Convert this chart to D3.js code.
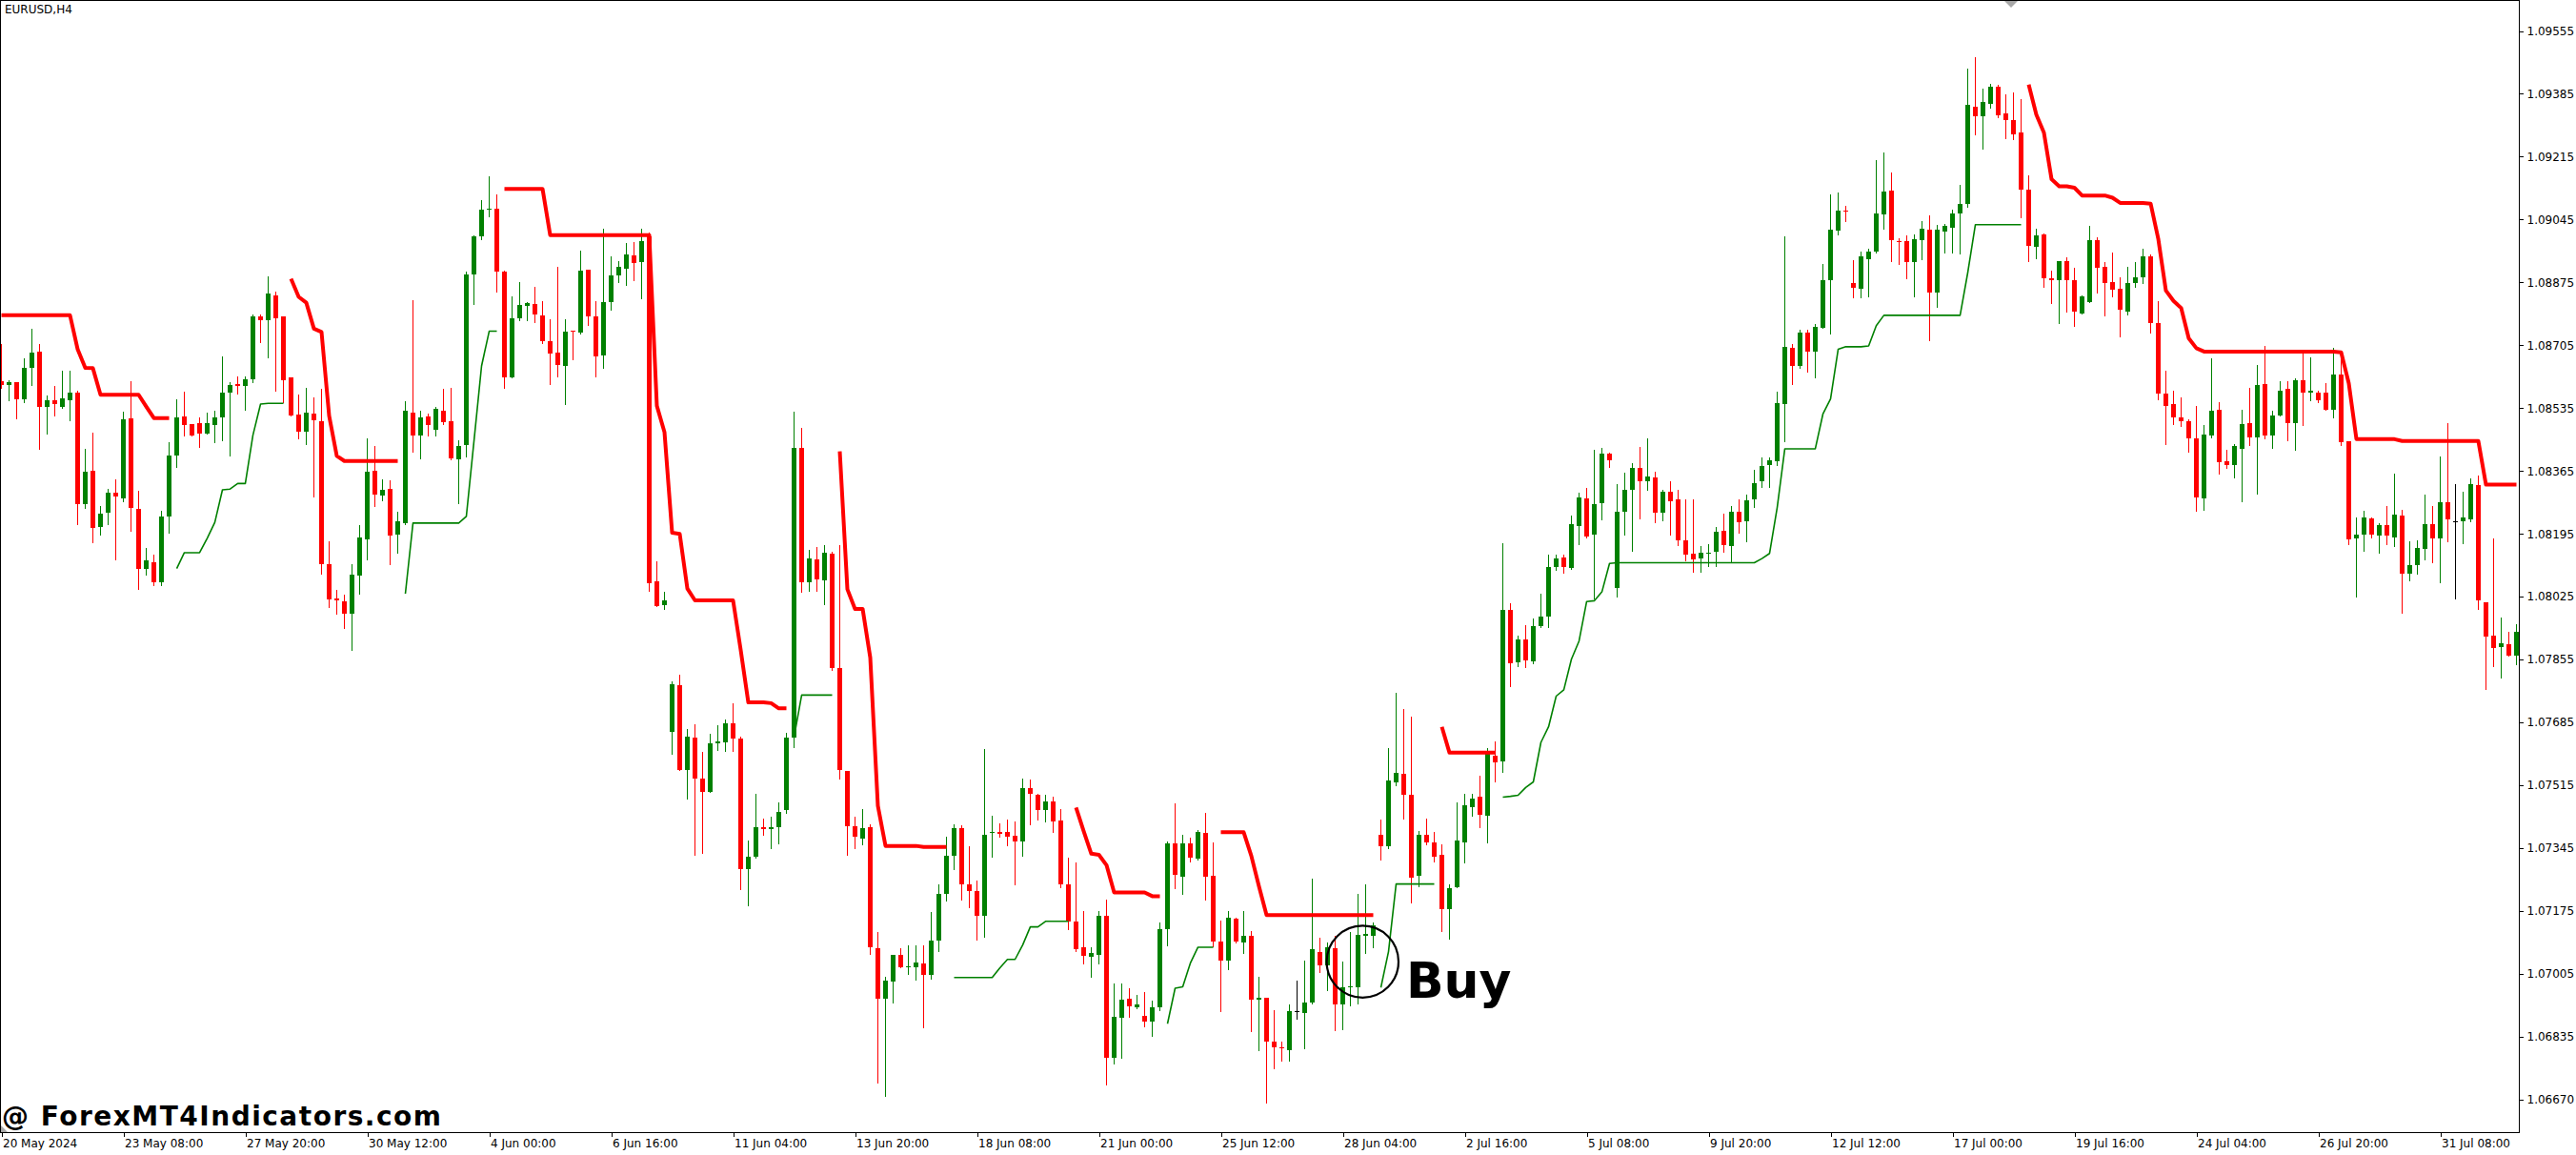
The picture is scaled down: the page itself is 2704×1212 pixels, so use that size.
<!DOCTYPE html>
<html>
<head>
<meta charset="utf-8">
<script src="https://cdn.jsdelivr.net/npm/d3@7"></script>
<style>
html,body{margin:0;padding:0;background:#ffffff;overflow:hidden;}
svg{display:block;}
</style>
</head>
<body>
<svg id="chart" width="2704" height="1212"></svg>
<script>
// ---------------- DATA (EURUSD, H4) ----------------
const symbolTitle = "EURUSD,H4";

const opens = [
1.08608,1.08597,1.08606,1.08559,1.08645,1.08688,1.08539,1.08557,1.08539,1.08557,
1.08577,1.08275,1.08366,1.08213,1.08251,1.08305,1.08291,1.08508,1.08263,1.08100,
1.08119,1.08063,1.08242,1.08407,1.08513,1.08492,1.08495,1.08467,1.08490,1.08511,
1.08577,1.08601,1.08596,1.08614,1.08783,1.08774,1.08840,1.08783,1.08617,1.08518,
1.08470,1.08521,1.08500,1.08114,1.08021,1.08013,1.07979,1.08082,1.08181,1.08366,
1.08299,1.08316,1.08194,1.08224,1.08523,1.08460,1.08512,1.08477,1.08528,1.08500,
1.08397,1.08434,1.08897,1.09000,1.09072,1.09075,1.08905,1.08618,1.08778,1.08811,
1.08817,1.08785,1.08716,1.08686,1.08649,1.08745,1.08740,1.08910,1.08783,1.08677,
1.08821,1.08894,1.08912,1.08948,1.08929,1.09000,1.08066,1.08003,1.07659,1.07785,
1.07556,1.07643,1.07534,1.07498,1.07629,1.07630,1.07682,1.07642,1.07287,1.07321,
1.07401,1.07397,1.07401,1.07448,1.07643,1.08428,1.08065,1.08126,1.08069,1.08142,
1.07832,1.07554,1.07404,1.07371,1.07401,1.07075,1.06938,1.06983,1.07057,1.07023,
1.07024,1.07032,1.07003,1.07094,1.07221,1.07324,1.07398,1.07248,1.07229,1.07163,
1.07385,1.07390,1.07388,1.07379,1.07364,1.07506,1.07489,1.07447,1.07472,1.07420,
1.07248,1.07146,1.07078,1.07050,1.07057,1.07163,1.06779,1.06885,1.06937,1.06914,
1.06892,1.06877,1.06914,1.07126,1.07357,1.07268,1.07357,1.07317,1.07385,1.07271,
1.07093,1.07042,1.07155,1.07089,1.07108,1.06935,1.06941,1.06822,1.06805,1.06798,
1.06905,1.06898,1.06928,1.07065,1.07029,1.07074,1.06923,1.06968,1.06968,1.07109,
1.07108,1.07382,1.07349,1.07524,1.07546,1.07488,1.07270,1.07382,1.07361,1.07327,
1.07181,1.07239,1.07361,1.07457,1.07483,1.07433,1.07594,1.07579,1.07990,1.07847,
1.07910,1.07850,1.07946,1.07972,1.08105,1.08132,1.08103,1.08217,1.08291,1.08193,
1.08279,1.08413,1.08048,1.08256,1.08314,1.08373,1.08336,1.08348,1.08251,1.08308,
1.08287,1.08178,1.08142,1.08128,1.08142,1.08146,1.08204,1.08162,1.08255,1.08229,
1.08287,1.08337,1.08381,1.08392,1.08545,1.08698,1.08648,1.08740,1.08689,1.08751,
1.08880,1.09014,1.09069,1.08874,1.08857,1.08938,1.08959,1.09060,1.09123,1.08986,
1.08986,1.08931,1.08990,1.09018,1.08848,1.09013,1.09023,1.09062,1.09088,1.09350,
1.09325,1.09359,1.09404,1.09333,1.09315,1.09281,1.09126,1.08970,1.09004,1.08885,
1.08880,1.08933,1.08881,1.08792,1.08821,1.08990,1.08917,1.08877,1.08859,1.08797,
1.08872,1.08889,1.08946,1.08766,1.08574,1.08546,1.08510,1.08499,1.08454,1.08291,
1.08462,1.08531,1.08392,1.08380,1.08426,1.08495,1.08456,1.08599,1.08460,1.08514,
1.08588,1.08495,1.08610,1.08578,1.08577,1.08577,1.08531,1.08626,1.08445,1.08182,
1.08192,1.08236,1.08190,1.08219,1.08185,1.08244,1.08087,1.08110,1.08155,1.08222,
1.08182,1.08281,1.08230,1.08229,1.08235,1.08328,1.08011,1.07920,1.07888,1.07897,
1.07866
];

const highs = [
1.08709,1.08611,1.08606,1.08670,1.08750,1.08709,1.08570,1.08595,1.08636,1.08636,
1.08582,1.08426,1.08469,1.08271,1.08316,1.08343,1.08525,1.08608,1.08312,1.08157,
1.08138,1.08258,1.08443,1.08559,1.08580,1.08492,1.08510,1.08523,1.08527,1.08675,
1.08606,1.08621,1.08621,1.08789,1.08789,1.08892,1.08849,1.08783,1.08617,1.08571,
1.08590,1.08563,1.08587,1.08175,1.08043,1.08030,1.08114,1.08219,1.08454,1.08433,
1.08342,1.08340,1.08254,1.08554,1.08827,1.08528,1.08521,1.08537,1.08588,1.08589,
1.08447,1.08904,1.09003,1.09098,1.09162,1.09114,1.08907,1.08838,1.08877,1.08821,
1.08864,1.08825,1.08776,1.08917,1.08776,1.08745,1.08961,1.08910,1.08825,1.09021,
1.08946,1.08933,1.08982,1.08984,1.09021,1.09011,1.08120,1.08039,1.07797,1.07814,
1.07666,1.07679,1.07605,1.07655,1.07678,1.07693,1.07737,1.07646,1.07365,1.07492,
1.07426,1.07429,1.07468,1.07656,1.08526,1.08482,1.08152,1.08160,1.08165,1.08147,
1.08165,1.07554,1.07431,1.07451,1.07410,1.07118,1.06997,1.07057,1.07073,1.07081,
1.07083,1.07083,1.07173,1.07248,1.07375,1.07410,1.07407,1.07351,1.07257,1.07614,
1.07432,1.07413,1.07423,1.07416,1.07534,1.07531,1.07491,1.07489,1.07484,1.07451,
1.07320,1.07307,1.07176,1.07078,1.07175,1.07206,1.06979,1.06979,1.06967,1.06948,
1.06956,1.06932,1.07145,1.07364,1.07466,1.07382,1.07373,1.07394,1.07441,1.07361,
1.07149,1.07175,1.07157,1.07175,1.07120,1.06996,1.06941,1.06907,1.06822,1.06923,
1.06986,1.07041,1.07263,1.07102,1.07090,1.07108,1.07039,1.07117,1.07221,1.07248,
1.07145,1.07422,1.07616,1.07765,1.07722,1.07700,1.07391,1.07424,1.07388,1.07355,
1.07246,1.07469,1.07491,1.07491,1.07540,1.07616,1.07633,1.08169,1.08008,1.07919,
1.07947,1.07967,1.08032,1.08139,1.08139,1.08138,1.08245,1.08305,1.08318,1.08421,
1.08428,1.08415,1.08330,1.08361,1.08385,1.08430,1.08452,1.08363,1.08314,1.08336,
1.08314,1.08287,1.08287,1.08162,1.08168,1.08213,1.08250,1.08271,1.08287,1.08300,
1.08367,1.08402,1.08402,1.08579,1.09000,1.08708,1.08746,1.08747,1.08763,1.08926,
1.09113,1.09117,1.09083,1.08936,1.08958,1.08967,1.09207,1.09227,1.09173,1.08995,
1.09003,1.09006,1.09041,1.09057,1.09030,1.09034,1.09071,1.09138,1.09453,1.09485,
1.09400,1.09413,1.09410,1.09384,1.09389,1.09370,1.09165,1.09021,1.09007,1.08907,
1.08933,1.08942,1.08915,1.08841,1.09028,1.08998,1.08931,1.08956,1.08889,1.08918,
1.08929,1.08967,1.08951,1.08825,1.08637,1.08581,1.08565,1.08504,1.08540,1.08490,
1.08669,1.08551,1.08423,1.08439,1.08531,1.08590,1.08652,1.08702,1.08529,1.08607,
1.08607,1.08615,1.08685,1.08672,1.08581,1.08602,1.08699,1.08669,1.08445,1.08238,
1.08257,1.08238,1.08224,1.08269,1.08358,1.08261,1.08175,1.08177,1.08302,1.08270,
1.08403,1.08495,1.08330,1.08309,1.08345,1.08352,1.08011,1.08182,1.07968,1.07931,
1.07951
];

const lows = [
1.08590,1.08557,1.08508,1.08552,1.08598,1.08426,1.08465,1.08516,1.08536,1.08501,
1.08220,1.08266,1.08173,1.08194,1.08220,1.08126,1.08282,1.08204,1.08047,1.08084,
1.08056,1.08056,1.08198,1.08375,1.08460,1.08460,1.08430,1.08467,1.08443,1.08449,
1.08407,1.08574,1.08531,1.08606,1.08714,1.08671,1.08581,1.08552,1.08514,1.08454,
1.08439,1.08295,1.08088,1.07998,1.07979,1.07940,1.07882,1.08034,1.08127,1.08269,
1.08286,1.08112,1.08144,1.08222,1.08418,1.08400,1.08462,1.08462,1.08493,1.08397,
1.08278,1.08403,1.08817,1.08993,1.09054,1.08851,1.08589,1.08618,1.08774,1.08774,
1.08768,1.08710,1.08600,1.08620,1.08545,1.08666,1.08737,1.08759,1.08620,1.08643,
1.08800,1.08877,1.08867,1.08880,1.08832,1.08041,1.07999,1.07993,1.07601,1.07556,
1.07479,1.07326,1.07332,1.07498,1.07611,1.07608,1.07608,1.07235,1.07191,1.07320,
1.07380,1.07344,1.07357,1.07441,1.07618,1.08037,1.08041,1.08041,1.08005,1.07827,
1.07534,1.07326,1.07346,1.07355,1.07059,1.06711,1.06674,1.06927,1.07022,1.07005,
1.06988,1.06861,1.06993,1.07067,1.07204,1.07287,1.07206,1.07184,1.07098,1.07105,
1.07321,1.07376,1.07352,1.07246,1.07324,1.07410,1.07423,1.07416,1.07388,1.07240,
1.07126,1.07067,1.07032,1.06997,1.07032,1.06707,1.06763,1.06779,1.06889,1.06911,
1.06864,1.06836,1.06908,1.07081,1.07237,1.07222,1.07308,1.07315,1.07206,1.07080,
1.06905,1.07018,1.07089,1.07062,1.06851,1.06798,1.06658,1.06749,1.06770,1.06770,
1.06883,1.06804,1.06925,1.07011,1.06962,1.06853,1.06855,1.06920,1.06925,1.07062,
1.07078,1.07315,1.07346,1.07516,1.07424,1.07197,1.07242,1.07354,1.07309,1.07120,
1.07100,1.07239,1.07305,1.07433,1.07402,1.07360,1.07525,1.07552,1.07782,1.07838,
1.07835,1.07846,1.07942,1.07943,1.08097,1.08091,1.08099,1.08166,1.08184,1.08020,
1.08235,1.08375,1.08026,1.08193,1.08148,1.08237,1.08314,1.08227,1.08232,1.08193,
1.08165,1.08123,1.08093,1.08093,1.08109,1.08107,1.08146,1.08119,1.08197,1.08174,
1.08268,1.08321,1.08321,1.08381,1.08445,1.08599,1.08643,1.08634,1.08619,1.08751,
1.08737,1.09005,1.09042,1.08834,1.08835,1.08838,1.08956,1.09021,1.08933,1.08924,
1.08887,1.08838,1.08938,1.08719,1.08809,1.08956,1.08956,1.08952,1.09079,1.09276,
1.09237,1.09347,1.09322,1.09264,1.09263,1.09050,1.08933,1.08940,1.08864,1.08818,
1.08765,1.08795,1.08758,1.08790,1.08821,1.08847,1.08786,1.08838,1.08730,1.08789,
1.08864,1.08872,1.08738,1.08560,1.08439,1.08492,1.08487,1.08417,1.08258,1.08261,
1.08456,1.08359,1.08372,1.08348,1.08283,1.08434,1.08303,1.08454,1.08428,1.08514,
1.08448,1.08421,1.08488,1.08555,1.08551,1.08531,1.08509,1.08434,1.08166,1.08026,
1.08149,1.08186,1.08143,1.08166,1.08162,1.07981,1.08069,1.08087,1.08127,1.08119,
1.08063,1.08175,1.08021,1.08169,1.08230,1.07993,1.07775,1.07836,1.07805,1.07865,
1.07843
];

const closes = [
1.08598,1.08606,1.08559,1.08644,1.08686,1.08539,1.08557,1.08547,1.08562,1.08577,
1.08275,1.08363,1.08210,1.08250,1.08305,1.08295,1.08505,1.08265,1.08101,1.08124,
1.08063,1.08242,1.08407,1.08510,1.08490,1.08460,1.08467,1.08495,1.08511,1.08577,
1.08598,1.08596,1.08614,1.08784,1.08774,1.08844,1.08779,1.08611,1.08514,1.08472,
1.08523,1.08501,1.08112,1.08018,1.08016,1.07979,1.08084,1.08186,1.08363,1.08302,
1.08314,1.08189,1.08229,1.08528,1.08462,1.08509,1.08488,1.08532,1.08496,1.08400,
1.08432,1.08897,1.09000,1.09072,1.09075,1.08904,1.08618,1.08778,1.08814,1.08820,
1.08787,1.08716,1.08682,1.08652,1.08742,1.08742,1.08907,1.08784,1.08674,1.08821,
1.08894,1.08917,1.08951,1.08928,1.08987,1.08062,1.07999,1.08014,1.07789,1.07556,
1.07647,1.07534,1.07498,1.07629,1.07634,1.07682,1.07642,1.07287,1.07321,1.07402,
1.07397,1.07402,1.07444,1.07643,1.08428,1.08065,1.08129,1.08073,1.08143,1.07832,
1.07555,1.07404,1.07375,1.07400,1.07078,1.06938,1.06987,1.07057,1.07022,1.07026,
1.07035,1.07003,1.07094,1.07221,1.07324,1.07398,1.07248,1.07229,1.07161,1.07382,
1.07389,1.07383,1.07375,1.07364,1.07506,1.07491,1.07447,1.07472,1.07416,1.07248,
1.07147,1.07071,1.07053,1.07061,1.07163,1.06779,1.06890,1.06936,1.06917,1.06923,
1.06877,1.06914,1.07126,1.07357,1.07272,1.07357,1.07320,1.07388,1.07268,1.07092,
1.07040,1.07157,1.07092,1.07108,1.06935,1.06940,1.06822,1.06806,1.06803,1.06905,
1.06905,1.06928,1.07071,1.07029,1.07078,1.06923,1.06968,1.06972,1.07110,1.07113,
1.07135,1.07349,1.07528,1.07548,1.07489,1.07266,1.07382,1.07361,1.07323,1.07181,
1.07236,1.07366,1.07461,1.07478,1.07434,1.07601,1.07576,1.07990,1.07846,1.07910,
1.07852,1.07946,1.07972,1.08106,1.08128,1.08105,1.08221,1.08294,1.08188,1.08276,
1.08413,1.08395,1.08256,1.08314,1.08372,1.08336,1.08351,1.08251,1.08308,1.08282,
1.08177,1.08139,1.08125,1.08143,1.08144,1.08201,1.08165,1.08255,1.08227,1.08286,
1.08333,1.08378,1.08395,1.08549,1.08701,1.08648,1.08740,1.08689,1.08755,1.08881,
1.09018,1.09069,1.09066,1.08860,1.08946,1.08959,1.09062,1.09121,1.08988,1.08984,
1.08929,1.08992,1.09021,1.08848,1.09018,1.09027,1.09062,1.09088,1.09354,1.09325,
1.09364,1.09405,1.09326,1.09313,1.09276,1.09125,1.08973,1.09003,1.08885,1.08881,
1.08933,1.08880,1.08795,1.08836,1.08988,1.08914,1.08872,1.08855,1.08801,1.08873,
1.08889,1.08946,1.08764,1.08574,1.08542,1.08509,1.08499,1.08454,1.08294,1.08464,
1.08529,1.08389,1.08380,1.08432,1.08492,1.08456,1.08598,1.08460,1.08514,1.08581,
1.08495,1.08611,1.08576,1.08581,1.08555,1.08531,1.08626,1.08443,1.08180,1.08194,
1.08238,1.08192,1.08218,1.08190,1.08246,1.08087,1.08110,1.08158,1.08222,1.08182,
1.08281,1.08233,1.08230,1.08238,1.08330,1.08015,1.07917,1.07886,1.07900,1.07866,
1.07931
];

// trailing indicator: red = resistance (down trend), green = support (up trend)
const N = null;
const redLine = [
1.08786,1.08786,1.08786,1.08786,1.08786,1.08786,1.08786,1.08786,1.08786,1.08786,
1.08694,1.08644,1.08643,1.08571,1.08571,1.08571,1.08571,1.08571,1.08571,1.08539,
1.08508,1.08508,1.08508,N,N,N,N,N,N,N,
N,N,N,N,N,N,N,N,1.08885,1.08836,
1.08820,1.08750,1.08741,1.08514,1.08406,1.08392,1.08392,1.08392,1.08392,1.08392,
1.08392,1.08392,1.08392,N,N,N,N,N,N,N,
N,N,N,N,N,N,1.09128,1.09128,1.09128,1.09128,
1.09128,1.09128,1.09003,1.09003,1.09003,1.09003,1.09003,1.09003,1.09003,1.09003,
1.09003,1.09003,1.09003,1.09003,1.09003,1.09003,1.08541,1.08470,1.08198,1.08195,
1.08047,1.08015,1.08015,1.08015,1.08015,1.08015,1.08015,1.07881,1.07739,1.07739,
1.07739,1.07737,1.07723,1.07723,N,N,N,N,N,N,
1.08418,1.08045,1.07992,1.07992,1.07860,1.07459,1.07351,1.07351,1.07351,1.07351,
1.07351,1.07348,1.07348,1.07348,1.07348,N,N,N,N,N,
N,N,N,N,N,N,N,N,N,N,
N,1.07455,1.07391,1.07330,1.07327,1.07299,1.07225,1.07225,1.07225,1.07225,
1.07225,1.07215,1.07215,N,N,N,N,N,N,N,
1.07388,1.07388,1.07388,1.07388,1.07324,1.07242,1.07164,1.07164,1.07164,1.07164,
1.07164,1.07164,1.07164,1.07164,1.07164,1.07164,1.07164,1.07164,1.07164,1.07164,
1.07164,N,N,N,N,N,N,N,N,1.07673,
1.07603,1.07603,1.07603,1.07603,1.07603,1.07603,1.07603,N,N,N,
N,N,N,N,N,N,N,N,N,N,
N,N,N,N,N,N,N,N,N,N,
N,N,N,N,N,N,N,N,N,N,
N,N,N,N,N,N,N,N,N,N,
N,N,N,N,N,N,N,N,N,N,
N,N,N,N,N,N,N,N,N,N,
N,N,N,N,N,N,1.09410,1.09329,1.09280,1.09154,
1.09135,1.09135,1.09131,1.09110,1.09110,1.09110,1.09110,1.09104,1.09090,1.09090,
1.09090,1.09090,1.09088,1.08993,1.08853,1.08825,1.08806,1.08724,1.08697,1.08688,
1.08688,1.08688,1.08688,1.08688,1.08688,1.08688,1.08688,1.08688,1.08688,1.08688,
1.08688,1.08688,1.08688,1.08688,1.08688,1.08688,1.08688,1.08686,1.08602,1.08451,
1.08451,1.08451,1.08451,1.08451,1.08451,1.08446,1.08446,1.08446,1.08446,1.08446,
1.08446,1.08446,1.08446,1.08446,1.08446,1.08446,1.08328,1.08328,1.08328,1.08328,
1.08328
];

const greenLine = [
N,N,N,N,N,N,N,N,N,N,
N,N,N,N,N,N,N,N,N,N,
N,N,N,1.08101,1.08144,1.08144,1.08144,1.08183,1.08226,1.08314,
1.08316,1.08331,1.08331,1.08462,1.08546,1.08548,1.08548,1.08548,N,N,
N,N,N,N,N,N,N,N,N,N,
N,N,N,1.08033,1.08224,1.08224,1.08224,1.08224,1.08224,1.08224,
1.08224,1.08242,1.08445,1.08649,1.08743,1.08743,N,N,N,N,
N,N,N,N,N,N,N,N,N,N,
N,N,N,N,N,N,N,N,N,N,
N,N,N,N,N,N,N,N,N,N,
N,N,N,N,1.07645,1.07759,1.07759,1.07759,1.07759,1.07759,
N,N,N,N,N,N,N,N,N,N,
N,N,N,N,N,1.06995,1.06995,1.06995,1.06995,1.06995,
1.06995,1.07021,1.07044,1.07044,1.07083,1.07132,1.07132,1.07147,1.07147,1.07147,
1.07147,N,N,N,N,N,N,N,N,N,
N,N,N,1.06870,1.06966,1.06970,1.07034,1.07077,1.07077,1.07077,
N,N,N,N,N,N,N,N,N,N,
N,N,N,N,N,N,N,N,N,N,
N,1.06968,1.07065,1.07248,1.07248,1.07248,1.07248,1.07248,1.07248,N,
N,N,N,N,N,N,N,1.07483,1.07485,1.07488,
1.07509,1.07524,1.07631,1.07673,1.07756,1.07773,1.07856,1.07905,1.08012,1.08014,
1.08038,1.08115,1.08117,1.08117,1.08117,1.08117,1.08117,1.08117,1.08117,1.08117,
1.08117,1.08117,1.08117,1.08117,1.08117,1.08117,1.08117,1.08117,1.08117,1.08117,
1.08117,1.08128,1.08142,1.08266,1.08425,1.08425,1.08425,1.08425,1.08425,1.08519,
1.08560,1.08694,1.08701,1.08701,1.08701,1.08703,1.08758,1.08786,1.08786,1.08786,
1.08786,1.08786,1.08786,1.08786,1.08786,1.08786,1.08786,1.08786,1.08901,1.09031,
1.09031,1.09031,1.09031,1.09031,1.09031,1.09031,N,N,N,N,
N,N,N,N,N,N,N,N,N,N,
N,N,N,N,N,N,N,N,N,N,
N,N,N,N,N,N,N,N,N,N,
N,N,N,N,N,N,N,N,N,N,
N,N,N,N,N,N,N,N,N,N,
N,N,N,N,N,N,N,N,N,N,
N
];

// price axis
const priceTickValues = [1.09555,1.09385,1.09215,1.09045,1.08875,1.08705,1.08535,1.08365,1.08195,
  1.08025,1.07855,1.07685,1.07515,1.07345,1.07175,1.07005,1.06835,1.06665];
const priceTickLabels = ["1.09555","1.09385","1.09215","1.09045","1.08875","1.08705","1.08535","1.08365","1.08195",
  "1.08025","1.07855","1.07685","1.07515","1.07345","1.07175","1.07005","1.06835","1.06670"];

// time axis (labels every 16 bars)
const timeTickBars = [0,16,32,48,64,80,96,112,128,144,160,176,192,208,224,240,256,272,288,304,320];
const timeTickLabels = ["20 May 2024","23 May 08:00","27 May 20:00","30 May 12:00","4 Jun 00:00","6 Jun 16:00",
  "11 Jun 04:00","13 Jun 20:00","18 Jun 08:00","21 Jun 00:00","25 Jun 12:00","28 Jun 04:00","2 Jul 16:00",
  "5 Jul 08:00","9 Jul 20:00","12 Jul 12:00","17 Jul 00:00","19 Jul 16:00","24 Jul 04:00","26 Jul 20:00","31 Jul 08:00"];

// annotation (bar index / price anchors)
const buySignal = {bar: 178.6, price: 1.07038, label: "Buy", labelBar: 184.3, labelPrice: 1.06940};
const watermark = "@ ForexMT4Indicators.com";

// ---------------- LAYOUT ----------------
const W = 2704, H = 1212;
const plotRight = 2644.5, plotBottom = 1188.5;
const COL_UP = "#008000", COL_DN = "#ff0000", COL_DOJI = "#000000";

const svg = d3.select("#chart");
svg.append("rect").attr("width", W).attr("height", H).attr("fill", "#ffffff");

const xs = d3.scaleLinear().domain([0, opens.length - 1]).range([1.5, 2641.5]);
const ys = d3.scaleLinear().domain([1.09555, 1.06665]).range([32.5, 1153.8]);

const plot = svg.append("g");
const clipId = "plotclip";
svg.append("clipPath").attr("id", clipId).append("rect")
  .attr("x", 0.5).attr("y", 0.5).attr("width", plotRight - 0.5).attr("height", plotBottom - 0.5);
plot.attr("clip-path", `url(#${clipId})`);

const bars = d3.range(opens.length).map(i => ({
  i, o: opens[i], h: highs[i], l: lows[i], c: closes[i]
}));
const colorOf = d => d.c > d.o ? COL_UP : (d.c < d.o ? COL_DN : COL_DOJI);

// wicks
plot.append("g").selectAll("rect").data(bars).join("rect")
  .attr("x", d => Math.round(xs(d.i) - 0.5))
  .attr("y", d => Math.round(ys(d.h)))
  .attr("width", 1)
  .attr("height", d => Math.max(1, Math.round(ys(d.l)) - Math.round(ys(d.h)) + 1))
  .attr("fill", colorOf)
  .attr("shape-rendering", "crispEdges");

// bodies
plot.append("g").selectAll("rect").data(bars).join("rect")
  .attr("x", d => Math.round(xs(d.i) - 2.5))
  .attr("y", d => Math.round(ys(Math.max(d.o, d.c))))
  .attr("width", 5)
  .attr("height", d => Math.max(1, Math.round(ys(Math.min(d.o, d.c))) - Math.round(ys(Math.max(d.o, d.c)))))
  .attr("fill", colorOf)
  .attr("shape-rendering", "crispEdges");

// indicator lines
const lineGen = d3.line()
  .defined(d => d != null)
  .x((d, i) => xs(i))
  .y(d => ys(d));

plot.append("path").datum(greenLine)
  .attr("d", lineGen).attr("fill", "none")
  .attr("stroke", COL_UP).attr("stroke-width", 1.6).attr("stroke-linejoin", "round");

plot.append("path").datum(redLine)
  .attr("d", lineGen).attr("fill", "none")
  .attr("stroke", COL_DN).attr("stroke-width", 4).attr("stroke-linejoin", "round");

// buy annotation
plot.append("circle")
  .attr("cx", xs(buySignal.bar)).attr("cy", ys(buySignal.price)).attr("r", 37.7)
  .attr("fill", "none").attr("stroke", "#000").attr("stroke-width", 2.2);
plot.append("text")
  .attr("x", xs(buySignal.labelBar)).attr("y", ys(buySignal.labelPrice))
  .attr("font-family", "'DejaVu Sans', sans-serif").attr("font-weight", "bold")
  .attr("font-size", 52).attr("fill", "#000").text(buySignal.label);

// frame
svg.append("rect").attr("x", 0.5).attr("y", 0.5)
  .attr("width", plotRight - 0.5).attr("height", plotBottom - 0.5)
  .attr("fill", "none").attr("stroke", "#000").attr("stroke-width", 1)
  .attr("shape-rendering", "crispEdges");

// price axis
const yAxis = d3.axisRight(ys)
  .tickValues(priceTickValues)
  .tickFormat((d, i) => priceTickLabels[i])
  .tickSize(4).tickPadding(4);
const ya = svg.append("g").attr("transform", `translate(${plotRight},0)`).call(yAxis);
ya.select(".domain").remove();
ya.selectAll("line").attr("stroke", "#000").attr("shape-rendering", "crispEdges");
ya.selectAll("text").attr("font-family", "'DejaVu Sans', sans-serif").attr("font-size", 12).attr("fill", "#000");

// time axis
const xAxis = d3.axisBottom(xs)
  .tickValues(timeTickBars)
  .tickFormat((d, i) => timeTickLabels[i])
  .tickSize(4).tickPadding(3);
const xa = svg.append("g").attr("transform", `translate(0,${plotBottom})`).call(xAxis);
xa.select(".domain").remove();
xa.selectAll("line").attr("stroke", "#000").attr("shape-rendering", "crispEdges");
xa.selectAll("text").attr("font-family", "'DejaVu Sans', sans-serif").attr("font-size", 12)
  .attr("fill", "#000").attr("text-anchor", "start").attr("x", 1);

// title
svg.append("text").attr("x", 5).attr("y", 14)
  .attr("font-family", "'DejaVu Sans', sans-serif").attr("font-size", 12).attr("fill", "#000")
  .text(symbolTitle);

// small grey markers (chart shift marker & corner)
svg.append("path").attr("d", "M2104,1 L2118,1 L2111,8 Z").attr("fill", "#a8a8a8");
svg.append("path").attr("d", "M1,1181 L1,1188 L8,1188 Z").attr("fill", "#a8a8a8");

// watermark
svg.append("text").attr("x", 2).attr("y", 1181)
  .attr("font-family", "'DejaVu Sans', sans-serif").attr("font-weight", "bold")
  .attr("font-size", 28).attr("letter-spacing", 1.5).attr("fill", "#000")
  .text(watermark);
</script>
</body>
</html>
